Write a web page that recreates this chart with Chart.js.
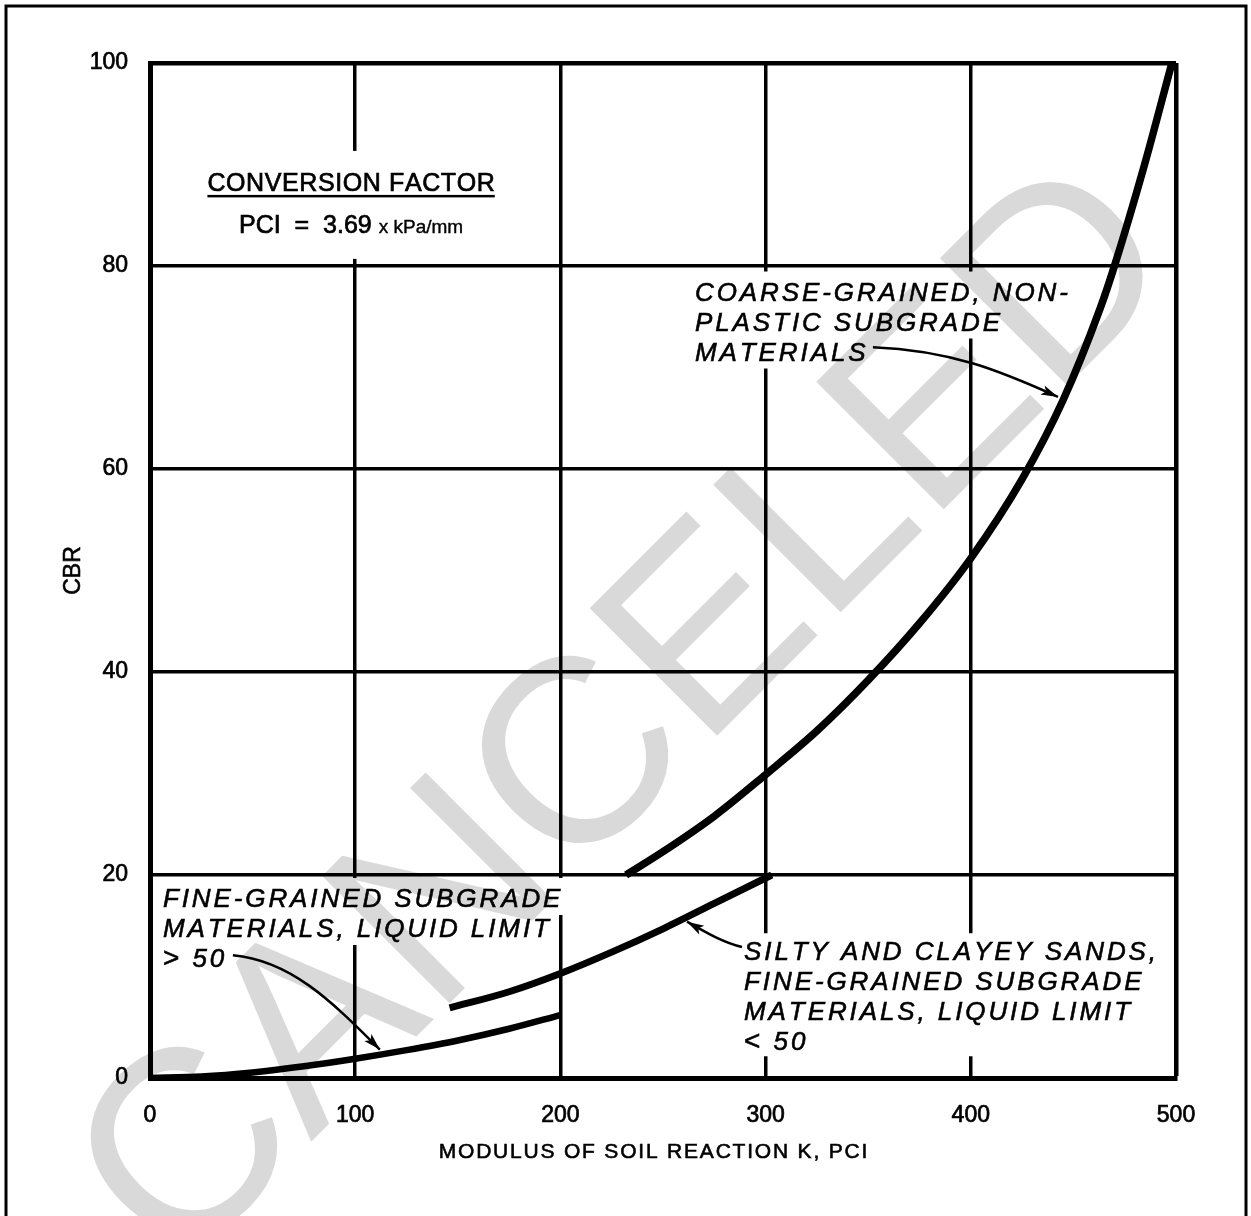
<!DOCTYPE html>
<html>
<head>
<meta charset="utf-8">
<title>CBR vs modulus of soil reaction</title>
<script src="https://cdn.jsdelivr.net/npm/chart.js@4.4.1/dist/chart.umd.min.js"></script>
<style>
  html, body { margin: 0; padding: 0; background: #fff; }
  #wrap { width: 1251px; height: 1216px; }
</style>
</head>
<body>
<div id="wrap"><canvas id="cbrChart" width="1251" height="1216"></canvas></div>
<script>
// axis ticks
const kTicks = [0, 100, 200, 300, 400, 500];
const cbrTicks = [0, 20, 40, 60, 80, 100];

// fine-grained subgrade, liquid limit > 50
const fineK = [0, 25, 50, 75, 100, 125, 150, 175, 200];
const fineCbr = [0, 0.15, 0.55, 1.15, 1.9, 2.75, 3.7, 4.85, 6.2];

// silty and clayey sands, liquid limit < 50
const siltyK = [146, 175, 200, 225, 250, 275, 303];
const siltyCbr = [6.9, 8.5, 10.3, 12.4, 14.7, 17.2, 20];

// coarse-grained, non-plastic
const coarseK = [232, 250, 275, 300, 325, 350, 375, 400, 425, 445, 463, 470, 484, 498];
const coarseCbr = [20, 22.3, 25.8, 29.9, 34.2, 39.2, 44.8, 51.2, 59, 66.8, 75.8, 80, 89.5, 100];

const FONT = '"Liberation Sans", Arial, Helvetica, sans-serif';

// callouts, anchored in chart units (k, cbr)
const callouts = [
  { lines: ['FINE-GRAINED SUBGRADE', 'MATERIALS, LIQUID LIMIT', '> 50'], at: [6.3, 16.85], box: 'lines',
    arrow: [[40.4, 12.1], [68, 11.6], [88, 7.7], [112, 2.8]] },
  { lines: ['SILTY AND CLAYEY SANDS,', 'FINE-GRAINED SUBGRADE', 'MATERIALS, LIQUID LIMIT', '< 50'], at: [289.5, 11.6], box: 'block',
    arrow: [[288.5, 12.9], [280, 13.3], [272, 14.2], [261.7, 15.4]] },
  { lines: ['COARSE-GRAINED, NON-', 'PLASTIC SUBGRADE', 'MATERIALS'], at: [265.6, 76.6], box: 'lines',
    arrow: [[352.3, 72.0], [390, 71.7], [414, 69.7], [442.5, 67.1]] }
];

function pts(xs, ys) {
  return xs.map((x, i) => ({ x: x, y: ys[i] }));
}

// draws (or just measures) text with extra tracking; a thin stroke gives the heavier print look
function spaced(ctx, str, x, y, gap, draw) {
  let cx = x;
  for (const ch of str) {
    if (draw) {
      ctx.fillText(ch, cx, y);
      ctx.strokeText(ch, cx, y);
    }
    cx += ctx.measureText(ch).width + gap;
  }
  return cx - x - gap;
}

// italic label line, a leading < or > drawn upright like the original
function labelLine(ctx, str, x, y, draw) {
  let w = 0;
  let rest = str;
  if (str[0] === '<' || str[0] === '>') {
    ctx.font = '28px ' + FONT;
    w = spaced(ctx, str[0], x, y, 0, draw) + 3;
    rest = str.slice(1);
  }
  ctx.font = 'italic 26px ' + FONT;
  return w + spaced(ctx, rest, x + w, y, 2.9, draw);
}

const decor = {
  id: 'decor',
  beforeDraw(chart) {
    const ctx = chart.ctx;
    ctx.save();
    ctx.fillStyle = '#fff';
    ctx.fillRect(0, 0, chart.width, chart.height);
    ctx.restore();
  },
  beforeDatasetsDraw(chart) {
    // clear the grid behind the text blocks, as on the original sheet
    const ctx = chart.ctx, sx = chart.scales.x, sy = chart.scales.y;
    ctx.save();
    ctx.fillStyle = '#fff';
    callouts.forEach(c => {
      const x0 = sx.getPixelForValue(c.at[0]);
      const y0 = sy.getPixelForValue(c.at[1]);
      const widths = c.lines.map(l => labelLine(ctx, l, 0, 0, false));
      if (c.box === 'block') {
        const w = Math.max(...widths);
        ctx.fillRect(x0 - 6, y0 - 27, w + 12, 30 * (c.lines.length - 1) + 33);
      } else {
        widths.forEach((w, i) => ctx.fillRect(x0 - 6, y0 + 30 * i - 29, w + 12, 37));
      }
    });
    const cx = sx.getPixelForValue(98);
    const cy = sy.getPixelForValue(87.4);
    ctx.fillRect(cx - 150, cy - 40, 300, 108);
    ctx.restore();
  },
  afterDatasetsDraw(chart) {
    const ctx = chart.ctx, sx = chart.scales.x, sy = chart.scales.y, area = chart.chartArea;
    ctx.save();
    ctx.fillStyle = '#000';
    ctx.strokeStyle = '#000';
    ctx.textAlign = 'left';
    ctx.textBaseline = 'alphabetic';
    ctx.lineWidth = 0.6;

    // callout text and arrows
    callouts.forEach(c => {
      const x0 = sx.getPixelForValue(c.at[0]);
      const y0 = sy.getPixelForValue(c.at[1]);
      ctx.lineWidth = 0.6;
      c.lines.forEach((l, i) => labelLine(ctx, l, x0, y0 + 30 * i, true));
      const p = c.arrow.map(a => [sx.getPixelForValue(a[0]), sy.getPixelForValue(a[1])]);
      ctx.lineWidth = 2.5;
      ctx.beginPath();
      ctx.moveTo(p[0][0], p[0][1]);
      ctx.bezierCurveTo(p[1][0], p[1][1], p[2][0], p[2][1], p[3][0], p[3][1]);
      ctx.stroke();
      const ang = Math.atan2(p[3][1] - p[2][1], p[3][0] - p[2][0]);
      ctx.save();
      ctx.translate(p[3][0], p[3][1]);
      ctx.rotate(ang);
      ctx.beginPath();
      ctx.moveTo(0, 0);
      ctx.lineTo(-17, -5);
      ctx.lineTo(-13, 0);
      ctx.lineTo(-17, 5);
      ctx.closePath();
      ctx.fill();
      ctx.restore();
    });

    // conversion factor note
    ctx.lineWidth = 0.7;
    const nx = sx.getPixelForValue(98);
    const ny = sy.getPixelForValue(87.4);
    ctx.font = '25px ' + FONT;
    const head = 'CONVERSION FACTOR';
    const hw = spaced(ctx, head, 0, 0, 0.6, false);
    spaced(ctx, head, nx - hw / 2, ny, 0.6, true);
    ctx.fillRect(nx - hw / 2, ny + 4, hw, 2.5);
    ctx.font = '25px ' + FONT;
    const a = 'PCI  =  3.69 ';
    const wa = ctx.measureText(a).width;
    ctx.font = '19px ' + FONT;
    const b = 'x kPa/mm';
    const wb = ctx.measureText(b).width;
    const lx = nx - (wa + wb) / 2;
    ctx.font = '25px ' + FONT;
    spaced(ctx, a, lx, ny + 42, 0, true);
    ctx.font = '19px ' + FONT;
    ctx.lineWidth = 0.4;
    spaced(ctx, b, lx + wa, ny + 42, 0, true);

    // axis titles
    ctx.lineWidth = 0.6;
    ctx.font = '21px ' + FONT;
    const xt = 'MODULUS OF SOIL REACTION K, PCI';
    const xw = spaced(ctx, xt, 0, 0, 1.8, false);
    spaced(ctx, xt, (area.left + area.right) / 2 - 10 - xw / 2, area.bottom + 80, 1.8, true);
    ctx.save();
    ctx.translate(74, (area.top + area.bottom) / 2);
    ctx.rotate(-Math.PI / 2);
    ctx.textAlign = 'center';
    ctx.textBaseline = 'middle';
    ctx.font = '23px ' + FONT;
    ctx.fillText('CBR', 0, 0);
    ctx.strokeText('CBR', 0, 0);
    ctx.restore();

    // sheet frame
    ctx.lineWidth = 3;
    ctx.beginPath();
    ctx.moveTo(6, chart.height);
    ctx.lineTo(6, 6);
    ctx.lineTo(chart.width - 5, 6);
    ctx.lineTo(chart.width - 5, chart.height);
    ctx.stroke();

    // watermark, multiplied so black stays on top
    ctx.globalCompositeOperation = 'multiply';
    ctx.translate(615, 705);
    ctx.rotate(-Math.PI / 4);
    ctx.font = '262px ' + FONT;
    ctx.fillStyle = '#d9d9d9';
    ctx.textAlign = 'center';
    ctx.textBaseline = 'alphabetic';
    ctx.fillText('CANCELED', 0, 94);
    ctx.restore();
  }
};

const lineStyle = {
  showLine: true,
  borderColor: '#000',
  backgroundColor: '#000',
  pointRadius: 0,
  cubicInterpolationMode: 'monotone',
  borderCapStyle: 'butt'
};

const tickFont = { family: FONT, size: 23 };

new Chart(document.getElementById('cbrChart'), {
  type: 'scatter',
  data: {
    datasets: [
      Object.assign({ label: 'Fine-grained, LL > 50', data: pts(fineK, fineCbr), borderWidth: 6.5 }, lineStyle),
      Object.assign({ label: 'Silty and clayey sands, LL < 50', data: pts(siltyK, siltyCbr), borderWidth: 7 }, lineStyle),
      Object.assign({ label: 'Coarse-grained, non-plastic', data: pts(coarseK, coarseCbr), borderWidth: 7.5 }, lineStyle)
    ]
  },
  options: {
    responsive: false,
    animation: false,
    layout: { padding: { top: 63, right: 75, left: 0, bottom: 0 } },
    plugins: { legend: { display: false }, tooltip: { enabled: false } },
    scales: {
      x: {
        type: 'linear',
        min: 0,
        max: 500,
        afterBuildTicks: s => { s.ticks = kTicks.map(v => ({ value: v })); },
        afterFit: s => { s.height = 138; },
        grid: { color: '#000', lineWidth: c => (c.tick && c.tick.value === 500 ? 4.5 : 3.5), drawTicks: false },
        border: { color: '#000', width: 5 },
        ticks: { color: '#000', font: tickFont, padding: 24, maxRotation: 0, textStrokeColor: '#000', textStrokeWidth: 0.7 }
      },
      y: {
        type: 'linear',
        min: 0,
        max: 100,
        afterBuildTicks: s => { s.ticks = cbrTicks.map(v => ({ value: v })); },
        afterFit: s => { s.width = 150; },
        grid: { color: '#000', lineWidth: c => (c.tick && c.tick.value === 100 ? 4.5 : 3.5), drawTicks: false },
        border: { color: '#000', width: 5 },
        ticks: { color: '#000', font: tickFont, padding: 22, textStrokeColor: '#000', textStrokeWidth: 0.7 }
      }
    }
  },
  plugins: [decor]
});
</script>
</body>
</html>
